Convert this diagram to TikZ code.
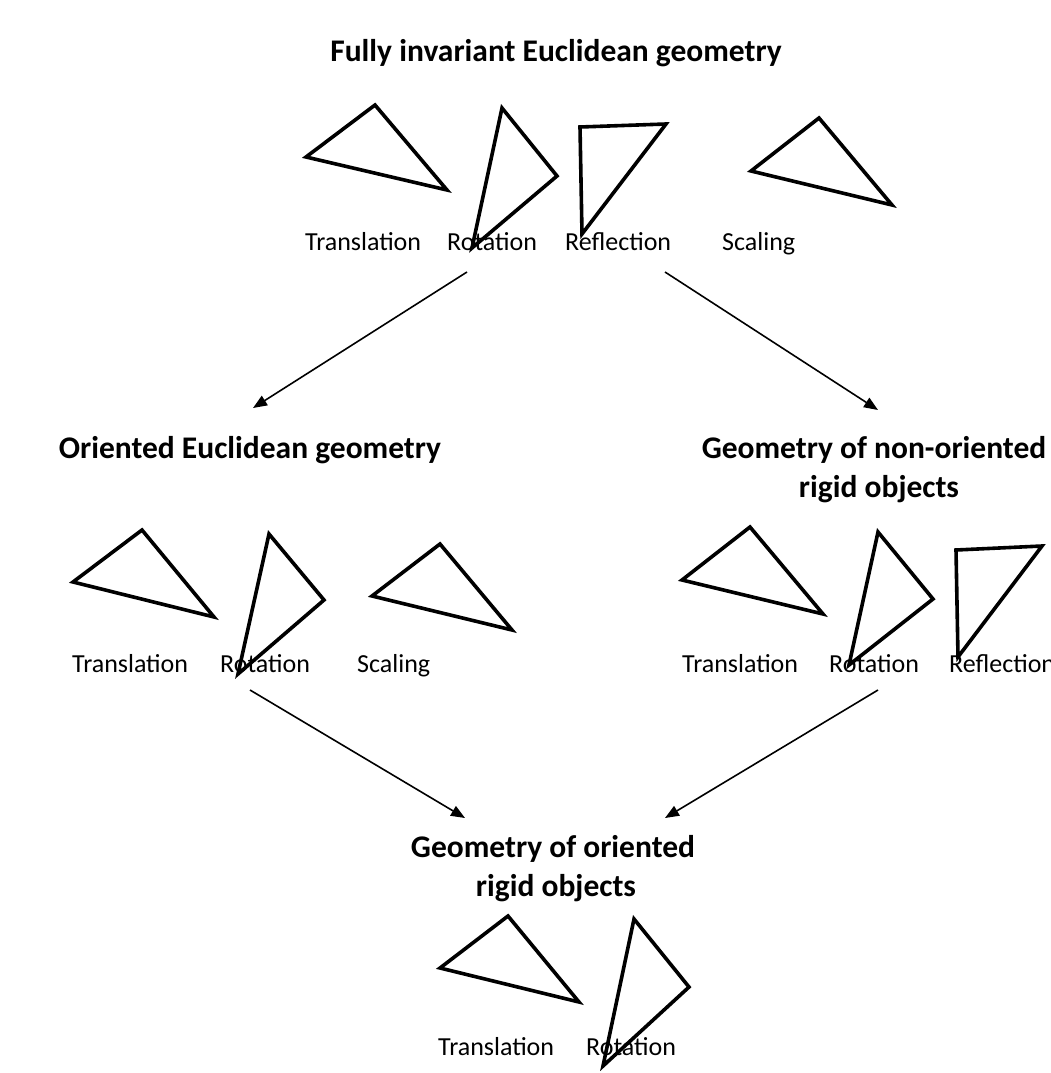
\documentclass[tikz,border=0pt]{standalone}
\usepackage{fontspec}
\setmainfont{Carlito}
\usetikzlibrary{arrows.meta}
\begin{document}
\begin{tikzpicture}[x=1pt,y=-1pt,
  tri/.style={draw=black,line width=3.6pt,line join=miter},
  lbl/.style={font=\fontsize{26}{30}\selectfont,inner sep=0pt,anchor=base west},
  ttl/.style={font=\fontsize{31.5}{38}\selectfont\bfseries,inner sep=0pt,anchor=base},
  arr/.style={draw=black,line width=1.6pt,-{Triangle[length=14pt,width=11pt]}}]
\useasboundingbox[fill=white] (0,0) rectangle (1050,1073);
% top
\node[ttl] (t0) at (556,62) {Fully invariant Euclidean geometry};
\draw[tri] (375,105) -- (306,157) -- (447,190) -- cycle;
\draw[tri] (502,108) -- (557,176) -- (472,248) -- cycle;
\draw[tri] (580,127) -- (666,124) -- (582,234) -- cycle;
\draw[tri] (819,118) -- (751,171) -- (892,205) -- cycle;
\node[lbl] (a1) at (305,250) {Translation};
\node[lbl] (a2) at (447,250) {Rotation};
\node[lbl] (a3) at (565,250) {Reflection};
\node[lbl] (a4) at (722,250) {Scaling};
% left middle
\node[ttl] (t1) at (250,458) {Oriented Euclidean geometry};
\draw[tri] (142,530) -- (73,582) -- (214,617) -- cycle;
\draw[tri] (269,534) -- (324,600) -- (238,674) -- cycle;
\draw[tri] (440,544) -- (372,596) -- (512,630) -- cycle;
\node[lbl] (b1) at (72,672) {Translation};
\node[lbl] (b2) at (220,672) {Rotation};
\node[lbl] (b3) at (357,672) {Scaling};
% right middle
\node[ttl] (t2a) at (874,458) {Geometry of non-oriented};
\node[ttl] (t2b) at (879,497) {rigid objects};
\draw[tri] (750,527) -- (682,580) -- (823,614) -- cycle;
\draw[tri] (878,532) -- (933,599) -- (849,665) -- cycle;
\draw[tri] (956,550) -- (1042,546) -- (958,657) -- cycle;
\node[lbl] (c1) at (682,672) {Translation};
\node[lbl] (c2) at (829,672) {Rotation};
\node[lbl] (c3) at (949,672) {Reflection};
% bottom
\node[ttl] (t3a) at (553,857) {Geometry of oriented};
\node[ttl] (t3b) at (556,896) {rigid objects};
\draw[tri] (508,916) -- (440,968) -- (579,1002) -- cycle;
\draw[tri] (634,919) -- (689,987) -- (603,1066) -- cycle;
\node[lbl] (d1) at (438,1055) {Translation};
\node[lbl] (d2) at (586,1055) {Rotation};
% arrows
\coordinate (s1) at (467,272); \coordinate (e1) at (253,408);
\coordinate (s2) at (665,272); \coordinate (e2) at (878,410);
\coordinate (s3) at (250,690); \coordinate (e3) at (465,818);
\coordinate (s4) at (878,690); \coordinate (e4) at (665,818);
\draw[arr] (s1) -- (e1);
\draw[arr] (s2) -- (e2);
\draw[arr] (s3) -- (e3);
\draw[arr] (s4) -- (e4);
\end{tikzpicture}
\end{document}
